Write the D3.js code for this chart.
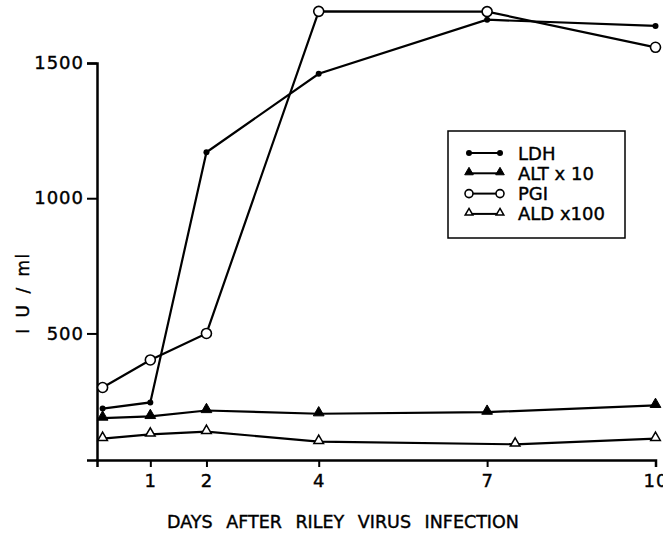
<!DOCTYPE html>
<html>
<head>
<meta charset="utf-8">
<script src="https://cdn.jsdelivr.net/npm/d3@7/dist/d3.min.js"></script>
<style>
    body { margin: 0; background: #fff; }
    svg text { font-family: "DejaVu Sans", sans-serif; fill: #000; stroke: #000; stroke-width: 0.4; }
</style>
</head>
<body>
<svg id="chart" width="663" height="536"></svg>
<script>
// values (IU/ml)
const days = [0.15, 1, 2, 4, 7, 10];
const aldDays = [0.15, 1, 2, 4, 7.5, 10];
const ldh = [222, 245, 1170, 1460, 1660, 1637];
const alt = [187, 193, 215, 203, 209, 234];
const pgi = [300, 402, 500, 1691, 1690, 1558];
const ald = [111, 127, 137, 100, 90, 111];
const xTicks = [1, 2, 4, 7, 10];
const yTicks = [500, 1000, 1500];
const legendLabels = ["LDH", "ALT x 10", "PGI", "ALD x100"];

const svg = d3.select("#chart");

const x = d3.scaleLinear().domain([0.05, 10]).range([97, 655.5]);
const y = d3.scaleLinear().domain([32, 1500]).range([460, 63]);

// axes
const yAxis = svg.append("g")
    .attr("transform", `translate(${x(0.05)},0)`)
    .call(d3.axisLeft(y).tickValues(yTicks).tickFormat(d3.format("d"))
        .tickSizeOuter(0).tickSize(10).tickPadding(3));

const xAxis = svg.append("g")
    .attr("transform", `translate(0,${y(32)})`)
    .call(d3.axisBottom(x).tickValues(xTicks).tickSizeOuter(0).tickSize(7));

[yAxis, xAxis].forEach(g => {
    g.select(".domain").attr("stroke-width", 2.5);
    g.selectAll(".tick line").attr("stroke-width", 2);
    g.selectAll("text").attr("font-size", 18).attr("letter-spacing", 1);
});
xAxis.selectAll("text").attr("y", 27).attr("dy", null);

svg.append("text")
    .attr("x", 343)
    .attr("y", 528)
    .attr("text-anchor", "middle")
    .attr("font-size", 17.5)
    .attr("word-spacing", 8)
    .text("DAYS AFTER RILEY VIRUS INFECTION");

svg.append("text")
    .attr("transform", "translate(29,293) rotate(-90)")
    .attr("text-anchor", "middle")
    .attr("font-size", 17)
    .attr("letter-spacing", 1.5)
    .attr("word-spacing", 3)
    .text("I U / ml");

const series = [
    { name: legendLabels[0], xs: days, ys: ldh, type: "dot" },
    { name: legendLabels[1], xs: days, ys: alt, type: "tri" },
    { name: legendLabels[2], xs: days, ys: pgi, type: "circle" },
    { name: legendLabels[3], xs: aldDays, ys: ald, type: "opentri" }
];

const line = d3.line().x(d => x(d[0])).y(d => y(d[1]));

function marker(g, type, cx, cy, small) {
    const k = small ? 0.8 : 1;
    if (type === "dot") {
        g.append("circle").attr("cx", cx).attr("cy", cy).attr("r", 3)
            .attr("fill", "#000");
    } else if (type === "circle") {
        g.append("circle").attr("cx", cx).attr("cy", cy).attr("r", 5 * k)
            .attr("fill", "#fff").attr("stroke", "#000").attr("stroke-width", 1.6);
    } else {
        const open = type === "opentri";
        g.append("path")
            .attr("d", d3.symbol(d3.symbolTriangle, (open ? 40 : 50) * k * k)())
            .attr("transform", `translate(${cx},${cy - 1})`)
            .attr("fill", open ? "#fff" : "#000")
            .attr("stroke", "#000")
            .attr("stroke-width", open ? 1.5 : 1);
    }
}

const plot = svg.append("g");
series.forEach(s => {
    const pts = s.xs.map((d, i) => [d, s.ys[i]]);
    plot.append("path")
        .datum(pts)
        .attr("d", line)
        .attr("fill", "none")
        .attr("stroke", "#000")
        .attr("stroke-width", 2.2);
});
series.forEach(s => {
    s.xs.forEach((d, i) => marker(plot, s.type, x(d), y(s.ys[i]), false));
});

// legend
const legend = svg.append("g");
legend.append("rect")
    .attr("x", 448).attr("y", 131)
    .attr("width", 177).attr("height", 107)
    .attr("fill", "#fff").attr("stroke", "#000").attr("stroke-width", 1.5);

series.forEach((s, i) => {
    const ly = 153 + i * 20.3;
    legend.append("line")
        .attr("x1", 469).attr("x2", 500)
        .attr("y1", ly).attr("y2", ly)
        .attr("stroke", "#000").attr("stroke-width", 2);
    marker(legend, s.type, 469, ly, true);
    marker(legend, s.type, 500, ly, true);
    legend.append("text")
        .attr("x", 518).attr("y", ly + 6.5)
        .attr("font-size", 18)
        .text(s.name);
});
</script>
</body>
</html>
